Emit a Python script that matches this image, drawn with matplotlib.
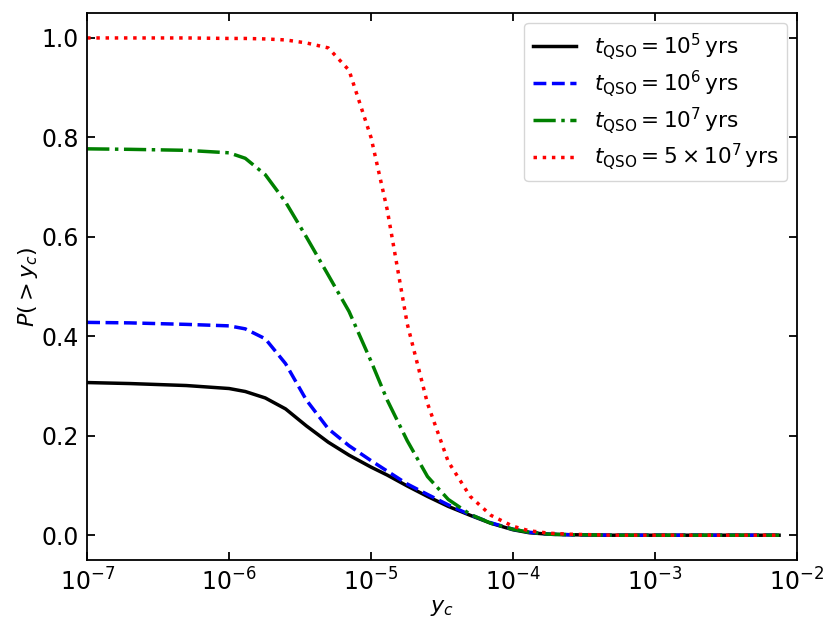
import numpy as np
import matplotlib
matplotlib.use('Agg')
import matplotlib.pyplot as plt

# =============================================================================
# data
# =============================================================================
y_c = [1e-7, 2e-7, 5e-7, 1e-6, 1.3e-6, 1.8e-6, 2.5e-6, 3.5e-6, 5e-6, 7e-6,
       1e-5, 1.3e-5, 1.8e-5, 2.5e-5, 3.5e-5, 5e-5, 7e-5, 1e-4, 1.3e-4,
       1.8e-4, 2.5e-4, 5e-4, 1e-3, 2e-3, 5e-3, 7.5e-3]

p_1e5 = [0.307, 0.305, 0.301, 0.295, 0.289, 0.276, 0.254, 0.220, 0.187,
         0.161, 0.137, 0.121, 0.099, 0.078, 0.058, 0.040, 0.024, 0.011,
         0.005, 0.002, 0.001, 0.0, 0.0, 0.0, 0.0, 0.0]
p_1e6 = [0.428, 0.427, 0.424, 0.421, 0.415, 0.395, 0.345, 0.272, 0.214,
         0.180, 0.150, 0.129, 0.103, 0.082, 0.061, 0.041, 0.025, 0.012,
         0.006, 0.002, 0.001, 0.0, 0.0, 0.0, 0.0, 0.0]
p_1e7 = [0.777, 0.776, 0.774, 0.769, 0.758, 0.725, 0.670, 0.600, 0.523,
         0.450, 0.350, 0.272, 0.190, 0.118, 0.072, 0.042, 0.024, 0.012,
         0.006, 0.002, 0.001, 0.0, 0.0, 0.0, 0.0, 0.0]
p_5e7 = [1.000, 1.000, 1.000, 0.999, 0.999, 0.998, 0.996, 0.990, 0.980,
         0.935, 0.800, 0.655, 0.425, 0.265, 0.148, 0.078, 0.040, 0.018,
         0.009, 0.004, 0.002, 0.0, 0.0, 0.0, 0.0, 0.0]

labels = [r'$t_{\rm QSO} = 10^5\,{\rm yrs}$',
          r'$t_{\rm QSO} = 10^6\,{\rm yrs}$',
          r'$t_{\rm QSO} = 10^7\,{\rm yrs}$',
          r'$t_{\rm QSO} = 5\times10^7\,{\rm yrs}$']

# =============================================================================
# plot
# =============================================================================
fig = plt.figure(figsize=(8.3, 6.23), dpi=100)
ax = fig.add_axes([0.105, 0.101, 0.855, 0.878])

lw = 2.5
ax.plot(y_c, p_1e5, color='k', ls='-', lw=lw, label=labels[0])
ax.plot(y_c, p_1e6, color='b', ls='--', lw=lw, label=labels[1])
ax.plot(y_c, p_1e7, color='g', ls='-.', lw=lw, label=labels[2])
ax.plot(y_c, p_5e7, color='r', ls=':', lw=lw, label=labels[3])

ax.set_xscale('log')
ax.set_xlim(1e-7, 1e-2)
ax.set_ylim(-0.05, 1.05)
ax.set_yticks([0.0, 0.2, 0.4, 0.6, 0.8, 1.0])
ax.minorticks_off()

ax.tick_params(direction='in', top=True, right=True, length=6, width=1.3,
               labelsize=17, pad=6)
for sp in ax.spines.values():
    sp.set_linewidth(1.3)

ax.set_xlabel(r'$y_c$', fontsize=16, labelpad=2)
ax.set_ylabel(r'$P(>y_c)$', fontsize=16, labelpad=1)
ax.legend(loc='upper right', fontsize=15.6, handlelength=2.0,
          labelspacing=0.28, borderaxespad=0.45)

fig.savefig('out.png', dpi=100)
